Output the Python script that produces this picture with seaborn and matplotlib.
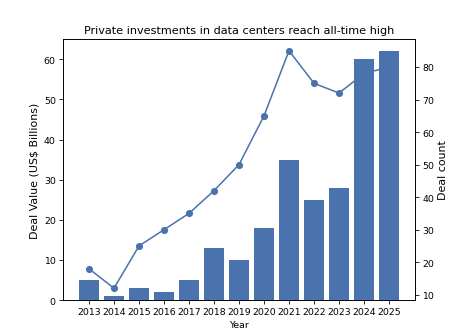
import numpy as np
import pandas as pd
import matplotlib
matplotlib.use("Agg")
import matplotlib.pyplot as plt
import seaborn as sns

years = ["2013", "2014", "2015", "2016", "2017", "2018", "2019",
         "2020", "2021", "2022", "2023", "2024", "2025"]
deal_value = [5, 1, 3, 2, 5, 13, 10, 18, 35, 25, 28, 60, 62]
deal_count = [18, 12, 25, 30, 35, 42, 50, 65, 85, 75, 72, 78, 80]

color = "#4a72ad"
fs = 9.2
plt.rcParams.update({"font.size": fs, "axes.titlesize": 11.04,
                     "axes.labelsize": fs, "xtick.labelsize": fs,
                     "ytick.labelsize": fs})

df = pd.DataFrame({"Year": years, "value": deal_value, "count": deal_count})

fig = plt.figure(figsize=(6.4, 4.52), dpi=73.44)
ax = fig.add_axes([0.134, 0.093, 0.749, 0.787])
ax2 = ax.twinx()

sns.barplot(data=df, x="Year", y="value", color=color, saturation=1, ax=ax)
sns.lineplot(x=np.arange(len(years)), y=deal_count, color=color,
             marker="o", markeredgewidth=0, markersize=7, linewidth=1.5, ax=ax2)

ax.set_zorder(ax2.get_zorder() + 1)
ax.patch.set_visible(False)

ax.set_ylabel("Deal Value (US$ Billions)", fontsize=10.8)
ax.set_xlabel("Year")
ax2.set_ylabel("Deal count", fontsize=10.8)
ax.set_title("Private investments in data centers reach all-time high")
n = len(years)
pad = 0.05 * (n - 1 + 0.8)
ax.set_xlim(-0.4 - pad, n - 1 + 0.4 + pad)

fig.savefig("out.png", dpi=73.44)
